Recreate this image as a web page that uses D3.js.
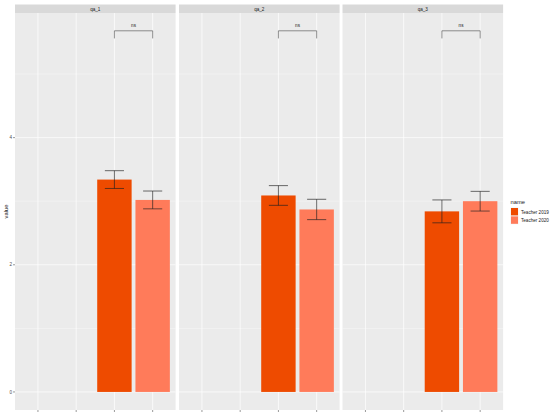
<!DOCTYPE html>
<html><head><meta charset="utf-8">
<script src="https://d3js.org/d3.v7.min.js"></script>
<style>body{margin:0;background:#fff}svg{display:block;font-family:"Liberation Sans",Arial,sans-serif}</style>
</head><body>
<script>
const facets = ["qa_1","qa_2","qa_3"];
const xCategories = ["c1","c2","Teacher 2019","Teacher 2020"];
const seriesNames = ["Teacher 2019","Teacher 2020"];
const means2019 = [3.34, 3.09, 2.84];
const means2020 = [3.02, 2.87, 3.00];
const err2019 = [0.14, 0.155, 0.18];
const err2020 = [0.14, 0.16, 0.155];
const yTicks = [0, 2, 4];
const yMinor = [1, 3, 5];
const sigLabel = ["ns","ns","ns"];
const sigY = 5.68;
const sigTip = 0.12;
const colors = ["#EE4B00","#FF7B5A"];

const W = 550, H = 418;
const svg = d3.select("body").append("svg").attr("width", W).attr("height", H);

const panelTop = 13, panelBottom = 410;
const panelLefts = [15, 179, 342.5];
const panelW = 160.6;
const y = d3.scaleLinear().domain([-0.284, 5.96]).range([panelBottom, panelTop]);

facets.forEach((f, i) => {
  const x0 = panelLefts[i];
  const x = d3.scalePoint().domain(xCategories).range([x0, x0 + panelW]).padding(0.6);
  const step = x.step();
  const g = svg.append("g");
  g.append("rect").attr("x", x0).attr("y", panelTop).attr("width", panelW).attr("height", panelBottom - panelTop).attr("fill", "#EBEBEB");
  g.append("rect").attr("x", x0).attr("y", 4.5).attr("width", panelW).attr("height", panelTop - 4.5).attr("fill", "#D9D9D9");
  g.append("text").attr("x", x0 + panelW / 2).attr("y", 10.8).attr("text-anchor", "middle").attr("font-size", 4.6).attr("fill", "#1A1A1A").text(f);
  yMinor.forEach(v => g.append("line").attr("x1", x0).attr("x2", x0 + panelW).attr("y1", y(v)).attr("y2", y(v)).attr("stroke", "#fff").attr("stroke-width", 0.35));
  yTicks.forEach(v => g.append("line").attr("x1", x0).attr("x2", x0 + panelW).attr("y1", y(v)).attr("y2", y(v)).attr("stroke", "#fff").attr("stroke-width", 0.7));
  xCategories.forEach(c => g.append("line").attr("x1", x(c)).attr("x2", x(c)).attr("y1", panelTop).attr("y2", panelBottom).attr("stroke", "#fff").attr("stroke-width", 0.7));
  xCategories.forEach(c => g.append("line").attr("x1", x(c)).attr("x2", x(c)).attr("y1", panelBottom).attr("y2", panelBottom + 2).attr("stroke", "#333").attr("stroke-width", 0.5));
  const vals = [means2019[i], means2020[i]];
  const errs = [err2019[i], err2020[i]];
  seriesNames.forEach((s, k) => {
    const cx = x(s);
    g.append("rect").attr("x", cx - 0.45 * step).attr("width", 0.9 * step)
      .attr("y", y(vals[k])).attr("height", y(0) - y(vals[k])).attr("fill", colors[k]);
  });
  seriesNames.forEach((s, k) => {
    const cx = x(s);
    const hi = y(vals[k] + errs[k]), lo = y(vals[k] - errs[k]);
    const hw = 0.25 * step;
    const eg = g.append("g").attr("stroke", "#1f1f1f").attr("stroke-width", 0.65).attr("fill", "none");
    eg.append("line").attr("x1", cx).attr("x2", cx).attr("y1", hi).attr("y2", lo);
    eg.append("line").attr("x1", cx - hw).attr("x2", cx + hw).attr("y1", hi).attr("y2", hi);
    eg.append("line").attr("x1", cx - hw).attr("x2", cx + hw).attr("y1", lo).attr("y2", lo);
  });
  const bx1 = x(seriesNames[0]), bx2 = x(seriesNames[1]);
  g.append("path").attr("d", `M${bx1},${y(sigY - sigTip)}V${y(sigY)}H${bx2}V${y(sigY - sigTip)}`)
    .attr("fill", "none").attr("stroke", "#2a2a2a").attr("stroke-width", 0.5);
  g.append("text").attr("x", (bx1 + bx2) / 2).attr("y", y(sigY) - 4).attr("text-anchor", "middle").attr("font-size", 4.6).attr("fill", "#1A1A1A").text(sigLabel[i]);
});

yTicks.forEach(v => {
  svg.append("line").attr("x1", 13).attr("x2", 15).attr("y1", y(v)).attr("y2", y(v)).attr("stroke", "#333").attr("stroke-width", 0.5);
  svg.append("text").attr("x", 12).attr("y", y(v) + 1.6).attr("text-anchor", "end").attr("font-size", 4.6).attr("fill", "#4D4D4D").text(v);
});
svg.append("text").attr("transform", `translate(7.5,${(panelTop + panelBottom) / 2}) rotate(-90)`).attr("text-anchor", "middle").attr("font-size", 5.8).attr("fill", "#1A1A1A").text("value");

const lg = svg.append("g");
lg.append("text").attr("x", 510.5).attr("y", 204).attr("font-size", 5.8).attr("fill", "#1A1A1A").text("name");
seriesNames.forEach((s, k) => {
  const ky = 207.5 + k * 8.4;
  lg.append("rect").attr("x", 510.5).attr("y", ky).attr("width", 8).attr("height", 8.4).attr("fill", "#F2F2F2");
  lg.append("rect").attr("x", 511).attr("y", ky + 0.5).attr("width", 7).attr("height", 7.4).attr("fill", colors[k]);
  lg.append("text").attr("x", 521).attr("y", ky + 6).attr("font-size", 4.6).attr("fill", "#1A1A1A").text(s);
});
</script>
</body></html>
